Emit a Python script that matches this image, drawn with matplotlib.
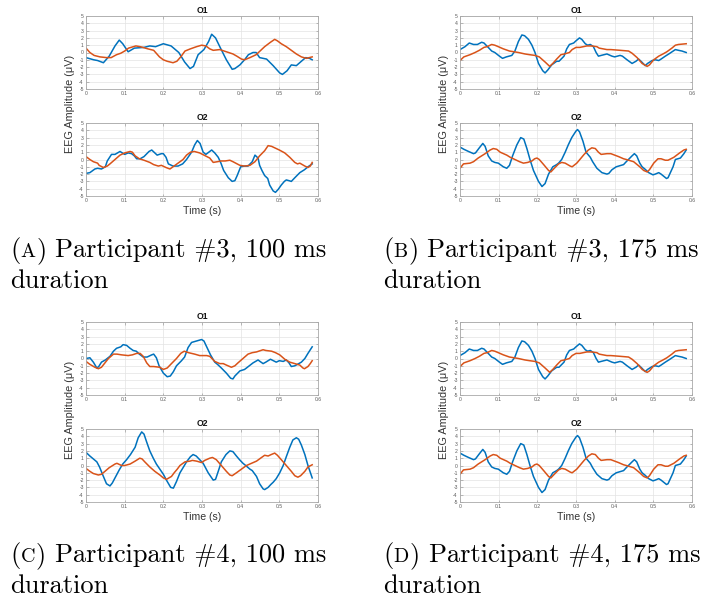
import numpy as np
import matplotlib
matplotlib.use("Agg")
import matplotlib.pyplot as plt

# ---------------------------------------------------------------- data
BLUE = "#0072BD"
ORANGE = "#D95319"

x_ticks = [0, 0.1, 0.2, 0.3, 0.4, 0.5, 0.6]
x_tick_labels = ["0", "0.1", "0.2", "0.3", "0.4", "0.5", "0.6"]
y_ticks = [-5, -4, -3, -2, -1, 0, 1, 2, 3, 4, 5]
channel_titles = ["O1", "O2"]
panel_letters = ["A", "B", "C", "D"]
panel_captions = ["Participant #3, 100 ms", "Participant #3, 175 ms",
                  "Participant #4, 100 ms", "Participant #4, 175 ms"]

# Participant #3, 100 ms -- O1
t_p3s_o1_blue = [0, 0.02, 0.03, 0.045, 0.06, 0.075, 0.086, 0.095, 0.109, 0.125,
                 0.15, 0.165, 0.18, 0.2, 0.22, 0.24, 0.255, 0.269, 0.278, 0.29,
                 0.305, 0.317, 0.325, 0.335, 0.346, 0.363, 0.378, 0.385, 0.398, 0.41,
                 0.42, 0.432, 0.44, 0.449, 0.467, 0.484, 0.501, 0.508, 0.52, 0.531,
                 0.544, 0.557, 0.568, 0.578, 0.585]
v_p3s_o1_blue = [-0.7, -1.0, -1.1, -1.4, -0.5, 0.9, 1.7, 1.2, 0.1, 0.6,
                 0.7, 0.9, 0.8, 1.2, 0.9, 0.0, -1.3, -2.2, -1.9, -0.3,
                 0.4, 1.5, 2.5, 2.0, 0.8, -1.0, -2.3, -2.2, -1.7, -1.0,
                 -0.3, 0.0, 0.0, -0.7, -0.9, -1.8, -2.8, -3.0, -2.5, -1.7,
                 -1.8, -1.2, -0.7, -0.8, -1.0]
t_p3s_o1_orange = [0, 0.01, 0.021, 0.036, 0.053, 0.065, 0.079, 0.09, 0.1, 0.11,
                   0.129, 0.14, 0.16, 0.175, 0.19, 0.2, 0.21, 0.225, 0.235, 0.245,
                   0.256, 0.27, 0.286, 0.299, 0.31, 0.32, 0.329, 0.346, 0.363, 0.38,
                   0.39, 0.402, 0.41, 0.424, 0.44, 0.45, 0.462, 0.477, 0.488, 0.495,
                   0.505, 0.518, 0.531, 0.544, 0.557, 0.57, 0.585]
v_p3s_o1_orange = [0.6, 0.0, -0.4, -0.6, -0.7, -0.7, -0.3, -0.1, 0.2, 0.6,
                   0.9, 0.8, 0.5, 0.3, -0.6, -1.0, -1.2, -1.4, -1.2, -0.6,
                   0.2, 0.5, 0.8, 1.0, 0.9, 0.5, 0.3, 0.4, 0.1, -0.2,
                   -0.5, -0.9, -1.0, -0.7, -0.3, 0.2, 0.8, 1.4, 1.8, 1.6,
                   1.2, 0.8, 0.3, -0.2, -0.6, -0.8, -0.6]

# Participant #3, 100 ms -- O2
t_p3s_o2_blue = [0, 0.01, 0.023, 0.03, 0.04, 0.05, 0.055, 0.066, 0.075, 0.088,
                 0.1, 0.109, 0.118, 0.125, 0.131, 0.14, 0.15, 0.163, 0.17, 0.178,
                 0.184, 0.195, 0.2, 0.207, 0.213, 0.225, 0.238, 0.25, 0.26, 0.273,
                 0.281, 0.288, 0.295, 0.303, 0.31, 0.32, 0.325, 0.333, 0.342, 0.349,
                 0.356, 0.368, 0.378, 0.385, 0.391, 0.4, 0.41, 0.419, 0.43, 0.437,
                 0.445, 0.449, 0.455, 0.462, 0.47, 0.475, 0.484, 0.49, 0.497, 0.505,
                 0.513, 0.518, 0.525, 0.531, 0.54, 0.553, 0.565, 0.574, 0.585]
v_p3s_o2_blue = [-1.9, -1.8, -1.3, -1.2, -1.3, -1.0, -0.2, 0.7, 0.7, 1.1,
                 0.7, 0.9, 0.8, 0.5, 0.1, 0.1, 0.4, 1.1, 1.3, 0.9,
                 0.6, 0.8, 0.8, 0.3, -0.6, -0.9, -0.9, -0.6, 0.0, 1.0,
                 2.0, 2.6, 2.2, 1.0, 0.7, 1.1, 1.3, 0.9, 0.3, -0.5,
                 -1.5, -2.5, -3.0, -2.9, -2.2, -1.0, -0.9, -0.9, -0.3, 0.6,
                 0.2, -0.8, -1.5, -2.2, -2.6, -3.5, -4.3, -4.5, -4.1, -3.5,
                 -3.0, -2.8, -2.9, -3.0, -2.5, -1.8, -1.4, -1.0, -0.6]
t_p3s_o2_orange = [0, 0.01, 0.019, 0.03, 0.034, 0.045, 0.055, 0.062, 0.075, 0.088,
                   0.1, 0.114, 0.12, 0.127, 0.138, 0.15, 0.165, 0.175, 0.187, 0.195,
                   0.207, 0.217, 0.225, 0.238, 0.251, 0.26, 0.27, 0.28, 0.294, 0.305,
                   0.32, 0.329, 0.34, 0.35, 0.36, 0.372, 0.38, 0.398, 0.41, 0.424,
                   0.437, 0.449, 0.462, 0.471, 0.48, 0.492, 0.5, 0.514, 0.527, 0.54,
                   0.547, 0.553, 0.566, 0.574, 0.58, 0.585]
v_p3s_o2_orange = [0.4, 0.0, -0.3, -0.5, -0.8, -1.1, -0.9, -0.6, 0.0, 0.6,
                   0.9, 1.1, 1.0, 0.5, 0.1, -0.1, -0.4, -0.7, -0.9, -0.8,
                   -1.1, -1.3, -1.0, -0.5, 0.0, 0.6, 1.0, 1.1, 0.9, 0.6,
                   0.2, -0.4, -0.3, -0.2, -0.2, -0.1, -0.3, -0.8, -0.9, -0.8,
                   -0.3, 0.5, 1.2, 1.9, 1.8, 1.5, 1.3, 0.9, 0.3, -0.4,
                   -0.6, -0.5, -0.9, -1.1, -0.9, -0.4]

# Participant #3 / #4, 175 ms -- O1
t_p3l_o1_blue = [0, 0.013, 0.024, 0.035, 0.045, 0.056, 0.062, 0.073, 0.082, 0.09,
                 0.102, 0.11, 0.12, 0.134, 0.142, 0.151, 0.16, 0.167, 0.177, 0.186,
                 0.194, 0.203, 0.214, 0.22, 0.227, 0.237, 0.25, 0.256, 0.269, 0.276,
                 0.283, 0.294, 0.3, 0.309, 0.315, 0.324, 0.33, 0.337, 0.345, 0.352,
                 0.358, 0.365, 0.38, 0.393, 0.4, 0.414, 0.42, 0.432, 0.445, 0.455,
                 0.462, 0.47, 0.479, 0.485, 0.497, 0.505, 0.514, 0.52, 0.531, 0.54,
                 0.557, 0.565, 0.574, 0.585]
v_p3l_o1_blue = [0.4, 0.8, 1.3, 1.1, 1.1, 1.4, 1.3, 0.7, 0.2, 0.0,
                 -0.5, -0.8, -0.6, -0.4, 0.2, 1.5, 2.4, 2.3, 1.8, 1.0,
                 0.0, -1.5, -2.5, -2.8, -2.4, -1.7, -1.2, -1.2, -0.5, 0.5,
                 1.1, 1.3, 1.6, 2.0, 1.8, 1.2, 1.0, 1.1, 0.8, 0.0,
                 -0.5, -0.4, -0.2, -0.5, -0.6, -0.4, -0.5, -1.0, -1.5, -1.2,
                 -0.9, -1.3, -1.8, -1.5, -1.1, -1.0, -1.1, -0.9, -0.5, -0.2,
                 0.4, 0.3, 0.2, 0.0]
t_p3l_o1_orange = [0, 0.01, 0.026, 0.039, 0.05, 0.062, 0.07, 0.082, 0.09, 0.099,
                   0.112, 0.128, 0.14, 0.151, 0.168, 0.18, 0.194, 0.205, 0.22, 0.232,
                   0.24, 0.25, 0.261, 0.27, 0.283, 0.29, 0.3, 0.31, 0.328, 0.34,
                   0.354, 0.36, 0.38, 0.39, 0.414, 0.436, 0.445, 0.458, 0.471, 0.484,
                   0.49, 0.501, 0.514, 0.525, 0.535, 0.548, 0.557, 0.565, 0.585]
v_p3l_o1_orange = [-1.1, -0.6, -0.3, 0.0, 0.3, 0.7, 0.8, 1.1, 1.0, 0.8,
                   0.5, 0.2, 0.1, 0.0, -0.2, -0.3, -0.4, -0.6, -1.3, -1.9,
                   -1.5, -0.9, -0.3, -0.2, 0.0, 0.4, 0.7, 0.7, 0.9, 0.9,
                   0.8, 0.6, 0.4, 0.4, 0.3, 0.2, -0.1, -0.7, -1.5, -1.9,
                   -1.7, -1.0, -0.5, -0.2, 0.1, 0.6, 1.0, 1.1, 1.2]

# Participant #3 / #4, 175 ms -- O2
t_p3l_o2_blue = [0, 0.01, 0.022, 0.035, 0.04, 0.05, 0.059, 0.065, 0.073, 0.082,
                 0.09, 0.099, 0.112, 0.121, 0.128, 0.136, 0.147, 0.157, 0.165, 0.173,
                 0.181, 0.19, 0.203, 0.212, 0.22, 0.229, 0.24, 0.25, 0.255, 0.263,
                 0.272, 0.28, 0.289, 0.3, 0.304, 0.309, 0.318, 0.326, 0.337, 0.343,
                 0.354, 0.367, 0.38, 0.385, 0.393, 0.404, 0.423, 0.43, 0.445, 0.451,
                 0.457, 0.465, 0.471, 0.478, 0.488, 0.499, 0.505, 0.514, 0.52, 0.534,
                 0.538, 0.551, 0.557, 0.57, 0.579, 0.585]
v_p3l_o2_blue = [1.7, 1.4, 1.1, 0.8, 0.9, 1.6, 2.2, 1.8, 0.5, -0.2,
                 -0.4, -0.5, -1.0, -1.2, -0.8, 0.5, 2.0, 3.0, 2.8, 1.5,
                 0.0, -1.5, -3.0, -3.7, -3.3, -2.0, -1.0, -0.7, -0.5, 0.0,
                 1.0, 2.0, 3.0, 3.9, 4.1, 3.8, 2.5, 1.0, 0.3, -0.3,
                 -1.2, -1.8, -2.0, -1.9, -1.4, -1.0, -0.7, -0.3, 0.5, 0.8,
                 0.5, -0.5, -1.0, -1.3, -1.8, -2.1, -2.0, -1.8, -2.0, -2.6,
                 -2.5, -1.0, 0.0, 0.2, 0.8, 1.3]
t_p3l_o2_orange = [0, 0.009, 0.026, 0.035, 0.047, 0.065, 0.078, 0.086, 0.095, 0.104,
                   0.121, 0.13, 0.142, 0.154, 0.164, 0.175, 0.186, 0.193, 0.199, 0.205,
                   0.218, 0.229, 0.235, 0.242, 0.255, 0.263, 0.272, 0.285, 0.29, 0.302,
                   0.31, 0.321, 0.332, 0.341, 0.35, 0.358, 0.365, 0.38, 0.39, 0.41,
                   0.423, 0.43, 0.449, 0.465, 0.475, 0.484, 0.49, 0.501, 0.512, 0.52,
                   0.531, 0.538, 0.553, 0.568, 0.579, 0.585]
v_p3l_o2_orange = [-1.2, -0.6, -0.5, -0.3, 0.2, 0.8, 1.3, 1.5, 1.4, 1.0,
                   0.6, 0.3, 0.0, -0.3, -0.5, -0.4, -0.2, 0.1, 0.2, 0.0,
                   -0.8, -1.5, -1.7, -1.3, -0.6, -0.4, -0.5, -0.9, -1.0, -0.5,
                   0.0, 0.7, 1.3, 1.6, 1.5, 1.0, 0.7, 0.8, 0.8, 0.4,
                   0.1, 0.0, -0.3, -1.0, -1.5, -1.7, -1.4, -0.5, 0.1, 0.1,
                   -0.1, -0.1, 0.3, 0.9, 1.3, 1.4]

# Participant #4, 100 ms -- O1
t_p4s_o1_blue = [0, 0.01, 0.019, 0.028, 0.033, 0.04, 0.05, 0.062, 0.071, 0.079,
                 0.09, 0.096, 0.105, 0.114, 0.122, 0.13, 0.138, 0.148, 0.158, 0.17,
                 0.175, 0.182, 0.189, 0.2, 0.21, 0.218, 0.226, 0.234, 0.247, 0.255,
                 0.264, 0.273, 0.286, 0.299, 0.305, 0.313, 0.322, 0.333, 0.34, 0.35,
                 0.363, 0.374, 0.38, 0.385, 0.398, 0.41, 0.415, 0.432, 0.445, 0.45,
                 0.458, 0.465, 0.477, 0.492, 0.5, 0.51, 0.518, 0.525, 0.531, 0.54,
                 0.557, 0.566, 0.574, 0.585]
v_p4s_o1_blue = [0.0, 0.1, -0.5, -1.3, -1.1, -0.5, -0.2, 0.3, 1.0, 1.4,
                 1.6, 1.9, 1.8, 1.4, 1.1, 1.0, 0.6, 0.2, 0.2, 0.5,
                 0.6, 0.1, -1.0, -2.0, -2.5, -2.4, -1.8, -1.0, -0.3, 0.2,
                 1.5, 2.2, 2.4, 2.6, 2.4, 1.5, 0.5, -0.5, -0.8, -1.3,
                 -2.0, -2.7, -2.8, -2.4, -1.7, -1.5, -1.3, -0.6, -0.2, -0.4,
                 -0.7, -0.5, -0.1, -0.5, -0.3, -0.4, -0.2, -0.6, -1.1, -1.0,
                 -0.5, 0.0, 0.7, 1.6]
t_p4s_o1_orange = [0, 0.01, 0.023, 0.032, 0.04, 0.049, 0.058, 0.071, 0.08, 0.092,
                   0.109, 0.12, 0.131, 0.14, 0.148, 0.157, 0.165, 0.175, 0.191, 0.2,
                   0.21, 0.221, 0.234, 0.245, 0.254, 0.265, 0.281, 0.294, 0.312, 0.32,
                   0.333, 0.346, 0.355, 0.363, 0.376, 0.385, 0.393, 0.406, 0.419, 0.43,
                   0.441, 0.458, 0.465, 0.48, 0.49, 0.501, 0.514, 0.527, 0.54, 0.553,
                   0.561, 0.565, 0.574, 0.58, 0.585]
v_p4s_o1_orange = [-0.4, -0.8, -1.2, -1.4, -1.2, -0.6, 0.0, 0.6, 0.6, 0.5,
                   0.4, 0.5, 0.7, 0.7, 0.3, -0.6, -1.1, -1.1, -1.2, -1.5,
                   -1.3, -0.7, 0.0, 0.7, 1.0, 0.8, 0.6, 0.4, 0.4, 0.3,
                   -0.4, -0.7, -0.7, -0.9, -1.2, -1.0, -0.6, 0.0, 0.6, 0.8,
                   0.9, 1.2, 1.1, 1.0, 0.8, 0.5, -0.1, -0.5, -0.7, -0.9,
                   -1.3, -1.4, -1.1, -0.7, -0.3]

# Participant #4, 100 ms -- O2
t_p4s_o2_blue = [0, 0.01, 0.019, 0.028, 0.035, 0.045, 0.053, 0.062, 0.068, 0.077,
                 0.086, 0.095, 0.105, 0.115, 0.127, 0.135, 0.144, 0.15, 0.157, 0.165,
                 0.174, 0.182, 0.191, 0.2, 0.208, 0.219, 0.226, 0.234, 0.243, 0.251,
                 0.26, 0.27, 0.277, 0.285, 0.294, 0.303, 0.316, 0.329, 0.335, 0.342,
                 0.35, 0.362, 0.372, 0.38, 0.389, 0.397, 0.406, 0.413, 0.424, 0.43,
                 0.441, 0.449, 0.458, 0.462, 0.471, 0.478, 0.484, 0.492, 0.501, 0.51,
                 0.518, 0.527, 0.535, 0.544, 0.55, 0.557, 0.566, 0.574, 0.585]
v_p4s_o2_blue = [1.8, 1.3, 0.9, 0.5, -0.2, -1.5, -2.5, -2.8, -2.4, -1.5,
                 -0.6, 0.2, 0.8, 1.5, 2.5, 3.8, 4.6, 4.3, 3.2, 2.0,
                 1.0, 0.2, -0.5, -1.2, -2.0, -3.0, -3.1, -2.2, -1.0, -0.3,
                 0.5, 1.2, 1.5, 1.3, 0.8, 0.3, -1.0, -2.0, -1.9, -0.8,
                 0.5, 1.5, 2.0, 1.9, 1.3, 0.8, 0.3, 0.0, -0.5, -0.7,
                 -1.5, -2.5, -3.2, -3.3, -3.0, -2.6, -2.3, -1.8, -1.0, 0.0,
                 1.2, 2.5, 3.5, 3.8, 3.6, 2.8, 1.5, 0.0, -1.7]
t_p4s_o2_orange = [0, 0.01, 0.019, 0.032, 0.04, 0.049, 0.06, 0.075, 0.08, 0.092,
                   0.1, 0.114, 0.127, 0.139, 0.145, 0.152, 0.165, 0.178, 0.191, 0.2,
                   0.208, 0.221, 0.228, 0.236, 0.243, 0.256, 0.269, 0.275, 0.286, 0.299,
                   0.307, 0.32, 0.327, 0.337, 0.35, 0.363, 0.372, 0.378, 0.389, 0.402,
                   0.415, 0.428, 0.441, 0.454, 0.462, 0.471, 0.479, 0.488, 0.495, 0.505,
                   0.518, 0.531, 0.54, 0.548, 0.555, 0.566, 0.574, 0.585]
v_p4s_o2_orange = [-0.4, -0.8, -1.1, -1.3, -1.2, -0.8, -0.3, 0.2, 0.3, 0.0,
                   0.0, 0.2, 0.6, 1.0, 0.9, 0.5, -0.2, -0.8, -1.3, -1.7,
                   -1.9, -1.5, -1.0, -0.5, 0.0, 0.5, 0.6, 0.7, 0.6, 0.4,
                   0.7, 1.0, 1.1, 0.8, 0.0, -0.8, -1.3, -1.4, -1.0, -0.5,
                   0.0, 0.3, 0.6, 1.1, 1.4, 1.3, 1.5, 1.7, 1.4, 0.8,
                   0.0, -0.8, -1.4, -1.6, -1.4, -0.8, -0.2, 0.1]

# ---------------------------------------------------------------- layout
W, H = 705, 607
fig = plt.figure(figsize=(W / 100, H / 100), dpi=100)
fig.patch.set_facecolor("white")

SANS = ["Liberation Sans", "DejaVu Sans"]


def rect(left, top, right, bottom):
    return [left / W, 1 - bottom / H, (right - left) / W, (bottom - top) / H]


def style_axes(ax, title, show_xlabel):
    ax.set_xlim(0, 0.6)
    ax.set_ylim(-5, 5)
    ax.set_xticks(x_ticks)
    ax.set_xticklabels(x_tick_labels)
    ax.set_yticks(y_ticks)
    ax.set_yticklabels([str(v) for v in y_ticks])
    ax.grid(True, color="#e3e3e3", lw=0.5)
    ax.set_axisbelow(True)
    for sp in ax.spines.values():
        sp.set_color("#a8a8a8")
        sp.set_linewidth(0.6)
    ax.tick_params(direction="in", length=1.8, width=0.4, color="#8a8a8a",
                   labelsize=3.6, labelcolor="#5a5a5a", pad=1.6,
                   top=True, right=True)
    for lab in ax.get_xticklabels() + ax.get_yticklabels():
        lab.set_family(SANS)
    ax.set_title(title, fontsize=6.2, fontweight="bold", family=SANS,
                 pad=2.2, color="#111111")
    if show_xlabel:
        ax.set_xlabel("Time (s)", fontsize=7.6, family=SANS,
                      labelpad=2.0, color="#333333")


def draw_panel(left, top, series):
    tops = [top, top + 107]
    axes = []
    for k in range(2):
        ax = fig.add_axes(rect(left, tops[k], left + 232, tops[k] + 73))
        tb, vb, to, vo = series[k]
        ax.plot(tb, vb, color=BLUE, lw=1.1, solid_joinstyle="round")
        ax.plot(to, vo, color=ORANGE, lw=1.1, solid_joinstyle="round")
        style_axes(ax, channel_titles[k], k == 1)
        axes.append(ax)
    fig.text((left - 16) / W, 1 - (top + 88) / H, "EEG Amplitude (\u03bcV)",
             rotation=90, ha="center", va="center", fontsize=7.8,
             family=SANS, color="#333333")
    return axes


panel_origins = [(86, 16), (460, 16), (86, 322), (460, 322)]
panel_series = [
    [(t_p3s_o1_blue, v_p3s_o1_blue, t_p3s_o1_orange, v_p3s_o1_orange),
     (t_p3s_o2_blue, v_p3s_o2_blue, t_p3s_o2_orange, v_p3s_o2_orange)],
    [(t_p3l_o1_blue, v_p3l_o1_blue, t_p3l_o1_orange, v_p3l_o1_orange),
     (t_p3l_o2_blue, v_p3l_o2_blue, t_p3l_o2_orange, v_p3l_o2_orange)],
    [(t_p4s_o1_blue, v_p4s_o1_blue, t_p4s_o1_orange, v_p4s_o1_orange),
     (t_p4s_o2_blue, v_p4s_o2_blue, t_p4s_o2_orange, v_p4s_o2_orange)],
    [(t_p3l_o1_blue, v_p3l_o1_blue, t_p3l_o1_orange, v_p3l_o1_orange),
     (t_p3l_o2_blue, v_p3l_o2_blue, t_p3l_o2_orange, v_p3l_o2_orange)],
]

for (lx, ty), ser in zip(panel_origins, panel_series):
    draw_panel(lx, ty, ser)

# ---------------------------------------------------------------- captions
renderer = fig.canvas.get_renderer()
CAP_SIZE = 19.0
SC_SIZE = 14.4
SERIF = "cmr10"


def put_text(x_px, y_px, s, size):
    t = fig.text(x_px / W, 1 - y_px / H, s, fontsize=size, family=SERIF,
                 ha="left", va="baseline", color="black")
    return x_px + t.get_window_extent(renderer).width


def caption(x_px, base_px, letter, text):
    x = put_text(x_px, base_px, "(", CAP_SIZE)
    x = put_text(x + 0.5, base_px, letter, SC_SIZE)
    x = put_text(x + 0.5, base_px, ")", CAP_SIZE)
    put_text(x + CAP_SIZE * 1.389 * 0.333, base_px, text, CAP_SIZE)
    put_text(x_px, base_px + 31, "duration", CAP_SIZE)


caption_origins = [(10, 257), (383, 257), (10, 562), (383, 562)]
for (cx, cy), letter, text in zip(caption_origins, panel_letters, panel_captions):
    caption(cx, cy, letter, text)

fig.savefig("out.png", dpi=100, facecolor="white")
